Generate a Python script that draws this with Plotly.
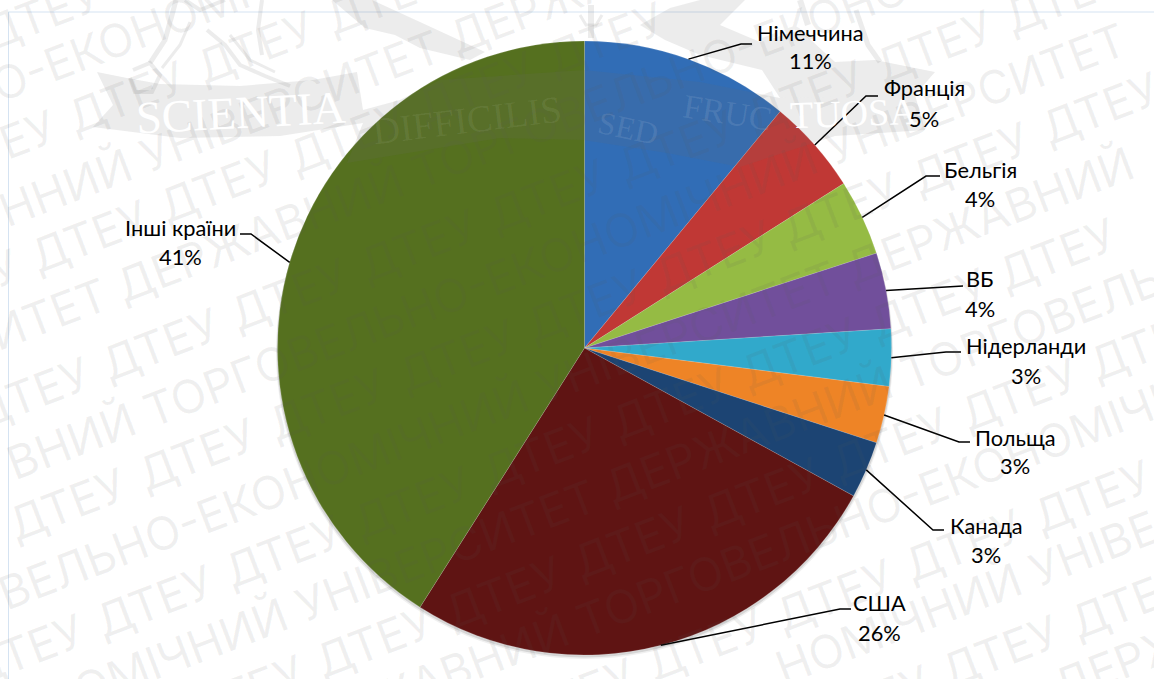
import math
import plotly.graph_objects as go

W, H = 1154, 679

# Export share by partner country, percent
countries = ["Німеччина", "Франція", "Бельгія", "ВБ", "Нідерланди", "Польща", "Канада", "США", "Інші країни"]
shares = [11, 5, 4, 4, 3, 3, 3, 26, 41]
colors = ["#316db6", "#c03835", "#95bb44", "#714f9b", "#31a9cb", "#ee8426", "#1c4473", "#5f1413", "#55701f"]

# Pie geometry in page pixels
CX, CY, R = 584.5, 348, 307

# Label centres (name line, percent line) and leader elbows per country
label_x = [810, 924, 980, 980, 1026, 1015, 986, 879, 180]
name_y = [32, 88, 169, 278, 345, 437, 525, 602, 228]
pct_y = [60, 118, 198, 309, 375, 465, 554, 632, 256]
elbow_a = [(741, 44), (866, 96), (926, 176), (963, 286), (946, 352), (959, 442), (933, 530), (840, 609), (251, 234)]
elbow_b = [(752, 44), (878, 96), (940, 176), (963, 286), (961, 352), (970, 442), (944, 530), (851, 609), (240, 234)]

# Diagonal background lettering. Each row is a line y = y0 - WM_SLOPE * x.
WM_ANGLE = -21
WM_SLOPE = math.tan(math.radians(-WM_ANGLE))
WM_SIZE = 46
WM_CHAR = 28.3
WM_INK = "rgba(90,90,90,0.09)"
CREST_INK = "rgba(110,110,110,0.13)"

# Rows of the university name: (text, y0, x of first letter)
name_rows = [
    ("О-ЕКОНОМІЧНИЙ", 85, 0),
    ("ННИЙ УНІВЕРСИТЕТ ДЕРЖАВНИЙ", 212, 0),
    ("ИТЕТ ДЕРЖАВНИЙ ТОРГОВЕЛЬНО-ЕКОНОМІЧНИЙ", 332, 0),
    ("ВНИЙ ТОРГОВЕЛЬНО-ЕКОНОМІЧНИЙ УНІВЕРСИТЕТ", 468, 0),
    ("ВЕЛЬНО-ЕКОНОМІЧНИЙ УНІВЕРСИТЕТ ДЕРЖАВНИЙ", 595, 0),
    ("ОМІЧНИЙ УНІВЕРСИТЕТ ДЕРЖАВНИЙ ТОРГОВЕЛЬНО", 722, 70),
    ("ЖАВНИЙ ТОРГОВЕЛЬНО-ЕКОНОМІЧНИЙ", 845, 385),
    ("НОМІЧНИЙ УНІВЕРСИТЕТ", 968, 770),
    ("ДЕРЖАВНИЙ", 1093, 1070),
]

# Rows of the abbreviation: (y0, word centre x positions)
abbr_word = "ДТЕУ"
abbr_rows = [
    (30, [41]),
    (145, [-3, 126, 255, 384]),
    (270, [-40, 89, 218, 347, 476, 605]),
    (405, [31, 160, 289, 418, 547, 676, 805, 934, 1063]),
    (530, [67, 197, 327, 457, 585, 713, 840, 970, 1100]),
    (660, [25, 154, 283, 412, 541, 670, 799, 928, 1057]),
    (785, [116, 245, 374, 503, 632, 761, 890, 1019, 1148]),
    (915, [447, 576, 705, 834, 963, 1092]),
    (1035, [871, 1000, 1129]),
]


def px(x, y):
    return x / W, 1 - y / H


def path_d(points, close=True):
    d = "M" + " L".join(f"{x / W:.5f},{1 - y / H:.5f}" for x, y in points)
    return d + " Z" if close else d


def label(text, x, y, font, angle=0):
    ax, ay = px(x, y)
    return dict(text=text, x=ax, y=ay, xref="paper", yref="paper", xanchor="center", yanchor="middle",
                showarrow=False, textangle=angle, font=font)


fig = go.Figure(
    go.Pie(
        labels=countries,
        values=shares,
        sort=False,
        direction="clockwise",
        rotation=0,
        marker=dict(colors=colors, line=dict(width=0.6, color="rgba(255,255,255,0.25)")),
        textinfo="none",
        hoverinfo="label+percent",
        domain=dict(x=[(CX - R) / W, (CX + R) / W], y=[1 - (CY + R) / H, 1 - (CY - R) / H]),
        showlegend=False,
    )
)

shapes = []
annotations = []

# Soft shadow under the disc
for off, grow, a in [(4, 1.5, 0.08), (2.5, 0.8, 0.14)]:
    x0, y1 = px(CX - R - grow, CY - R + off)
    x1, y0 = px(CX + R + grow, CY + R + off)
    shapes.append(dict(type="circle", xref="paper", yref="paper", x0=x0, x1=x1, y0=y0, y1=y1,
                       fillcolor=f"rgba(60,60,60,{a})", line_width=0, layer="below"))

# Frame lines along the top and left
for a, b in [((8.5, 12), (W, 12)), ((8.5, 12), (8.5, H))]:
    x0, y0 = px(*a)
    x1, y1 = px(*b)
    shapes.append(dict(type="line", xref="paper", yref="paper", x0=x0, y0=y0, x1=x1, y1=y1,
                       line=dict(color="#d5e3f2", width=1), layer="below"))

# Crest ribbon and wings
crest_fills = [
    [(97, 72), (127, 78), (160, 84), (240, 86), (313, 80), (357, 72), (363, 110), (400, 100), (440, 80), (584, 70),
     (700, 82), (780, 98), (915, 95), (925, 130), (835, 136), (740, 167), (667, 153), (583, 140), (500, 138),
     (347, 163), (363, 123), (280, 136), (180, 138), (93, 127), (113, 105)],
    [(332, 0), (372, 0), (420, 22), (485, 52), (470, 60), (420, 48), (395, 35), (365, 28)],
    [(640, 25), (670, 8), (700, 0), (745, 0), (720, 25), (760, 42), (800, 30), (835, 62), (875, 60), (935, 72),
     (915, 95), (780, 98), (762, 70), (700, 55), (665, 40)],
]
for c in crest_fills:
    shapes.append(dict(type="path", xref="paper", yref="paper", path=path_d(c), fillcolor=CREST_INK,
                       line_width=0, layer="above"))

# Crest figure sketched with pen strokes: boots, legs and staff
strokes = [
    ([(130, 78), (135, 92), (152, 92), (160, 75), (150, 63), (133, 70)], 4),
    ([(150, 63), (165, 40), (172, 15), (176, 0)], 5),
    ([(162, 68), (180, 45), (190, 22)], 3),
    ([(207, 30), (225, 45), (240, 65), (265, 76), (290, 86)], 4),
    ([(230, 35), (250, 60), (275, 72)], 3),
    ([(262, 0), (258, 30), (262, 55)], 4),
    ([(185, 0), (200, 10), (225, 0)], 4),
    ([(591, 5), (591, 38)], 6),
    ([(580, 15), (586, 25), (596, 25), (602, 15)], 3),
    ([(856, 10), (868, 45), (880, 62)], 5),
    ([(800, 0), (808, 25)], 6),
]
for s, lw in strokes:
    shapes.append(dict(type="path", xref="paper", yref="paper", path=path_d(s, close=False),
                       line=dict(color=CREST_INK, width=lw), layer="above"))

# Diagonal background lettering
wm_font = dict(family="Inter", size=WM_SIZE, color=WM_INK)
for y0, xs in abbr_rows:
    for x in xs:
        annotations.append(label(abbr_word, x, y0 - WM_SLOPE * x, wm_font, WM_ANGLE))
for text, y0, sx in name_rows:
    cx = sx + len(text) * WM_CHAR / 2
    annotations.append(label(text, cx, y0 - WM_SLOPE * cx, wm_font, WM_ANGLE))

# Ribbon motto, kept on top of the diagonal lettering
motto = [
    ("SCIENTIA", 241, 113, 46, -3, "#ffffff"),
    ("DIFFICILIS", 467, 120, 38, -7, "rgba(255,255,255,0.07)"),
    ("SED", 628, 128, 32, 12, "rgba(255,255,255,0.10)"),
    ("FRUC", 727, 113, 34, 9, "rgba(255,255,255,0.10)"),
    ("TUOSA", 853, 113, 38, -2, "#ffffff"),
]
for text, x, y, size, ang, col in motto:
    annotations.append(label(text, x, y, dict(family="Liberation Serif", size=size, color=col), ang))

# Leader lines start on the rim at each slice's mid-angle
cum = 0
total = sum(shares)
for i, v in enumerate(shares):
    mid = math.radians((cum + v / 2) / total * 360)
    cum += v
    rim = (CX + R * math.sin(mid), CY - R * math.cos(mid))
    shapes.append(dict(type="path", xref="paper", yref="paper", path=path_d([rim, elbow_a[i], elbow_b[i]], close=False),
                       line=dict(color="#000000", width=1.5), layer="above"))
    font = dict(family="Lato, 'Open Sans', sans-serif", size=21.8, color="#000000")
    annotations.append(label(countries[i], label_x[i], name_y[i], font))
    annotations.append(label(f"{v}%", label_x[i], pct_y[i], font))

fig.update_layout(
    width=W,
    height=H,
    margin=dict(l=0, r=0, t=0, b=0),
    paper_bgcolor="#ffffff",
    plot_bgcolor="#ffffff",
    shapes=shapes,
    annotations=annotations,
)

fig.write_html("out.html")
